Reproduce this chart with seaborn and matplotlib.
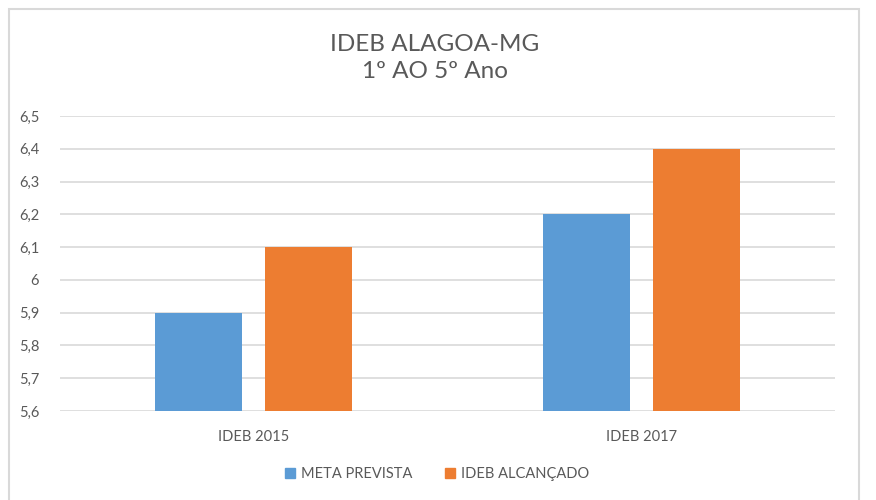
import pandas as pd
import matplotlib.pyplot as plt
import seaborn as sns
from matplotlib.patches import Rectangle

# dados
anos = ['IDEB 2015', 'IDEB 2017']
series = ['META PREVISTA', 'IDEB ALCANÇADO']
meta_prevista = [5.9, 6.2]
ideb_alcancado = [6.1, 6.4]
y_ticks = [5.6, 5.7, 5.8, 5.9, 6.0, 6.1, 6.2, 6.3, 6.4, 6.5]
cores = ['#5B9BD5', '#ED7D31']

df = pd.DataFrame({
    'ano': anos * 2,
    'serie': [series[0]] * 2 + [series[1]] * 2,
    'valor': meta_prevista + ideb_alcancado,
})

sns.set_style('white')
plt.rcParams['font.family'] = ['Lato', 'DejaVu Sans']
texto = '#595959'

fig = plt.figure(figsize=(8.76, 5), dpi=100)
ax = fig.add_axes([60 / 876, 1 - 411 / 500, 775 / 876, 295 / 500])

sns.barplot(data=df, x='ano', y='valor', hue='serie', palette=cores,
            width=0.568, gap=0.21, ax=ax, legend=False, saturation=1,
            linewidth=0)

ax.set_ylim(5.6, 6.5)
ax.set_yticks(y_ticks)
ax.set_yticklabels([f'{v:g}'.replace('.', ',') for v in y_ticks])
ax.grid(axis='y', color='#D9D9D9', linewidth=1.2)
ax.set_axisbelow(True)
for s in ax.spines.values():
    s.set_visible(False)
ax.tick_params(length=0, labelsize=10.5, colors=texto)
ax.tick_params(axis='y', pad=15)
ax.tick_params(axis='x', pad=14)
ax.set_xlabel('')
ax.set_ylabel('')

fig.text(435 / 876, 1 - 58 / 500, 'IDEB ALAGOA-MG\n1º AO 5º Ano', ha='center',
         va='center', fontsize=17.5, color=texto, linespacing=1.3)

handles = [Rectangle((0, 0), 1, 1, color=c) for c in cores]
fig.legend(handles, series, loc='center', bbox_to_anchor=(437 / 876, 1 - 474 / 500),
           ncol=2, frameon=False, fontsize=10.5, labelcolor=texto,
           handlelength=0.7, handleheight=0.7, handletextpad=0.4, columnspacing=2.2)

# moldura do gráfico
fig.patches.append(Rectangle((9 / 876, -0.05), 850 / 876, 1.05 - 9 / 500,
                             transform=fig.transFigure, fill=False,
                             edgecolor='#D9D9D9', linewidth=1.5))

fig.savefig('out.png', dpi=100)
